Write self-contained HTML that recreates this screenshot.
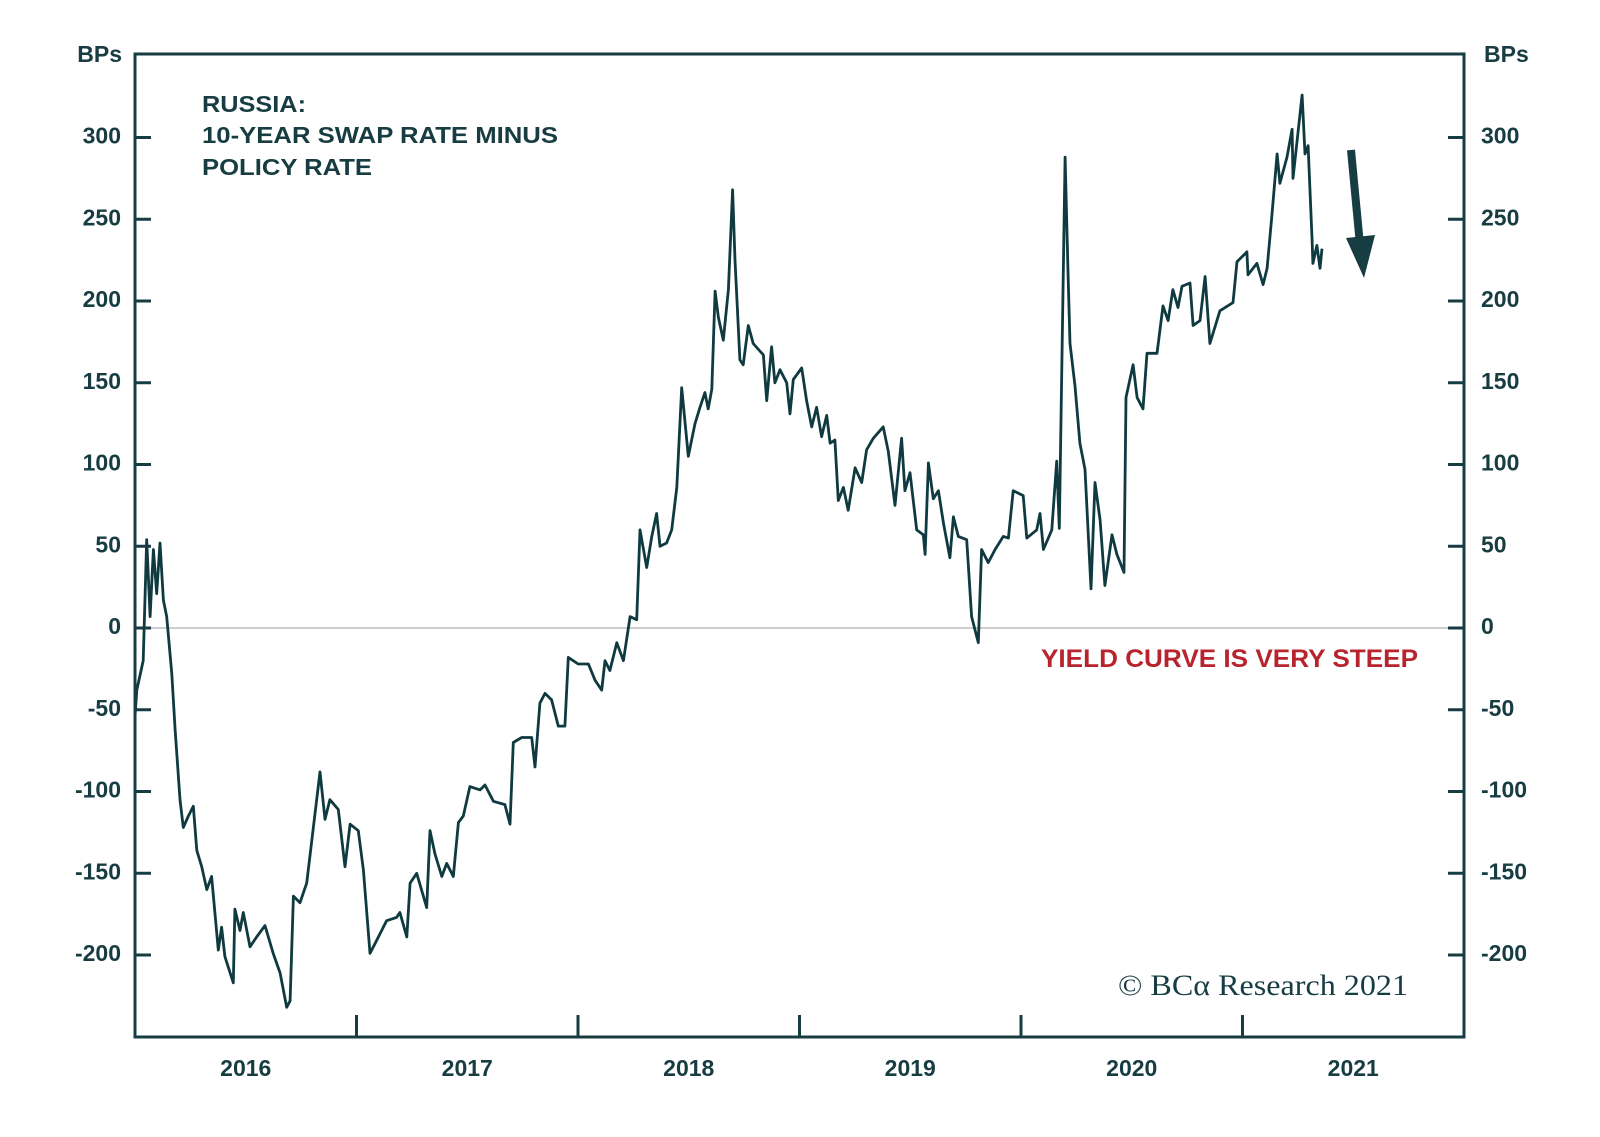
<!DOCTYPE html>
<html>
<head>
<meta charset="utf-8">
<style>
  html,body{margin:0;padding:0;background:#fff;}
  svg{display:block;}
  text{font-family:"Liberation Sans",sans-serif;}
</style>
</head>
<body>
<svg id="chart" width="1600" height="1137" viewBox="0 0 1600 1137" xmlns="http://www.w3.org/2000/svg">
  <g id="grid"></g>
  <g id="series"></g>
  <g id="axes"></g>
  <g fill="#173c42" font-weight="bold" font-size="23">
    <text x="202" y="112" textLength="104" lengthAdjust="spacingAndGlyphs">RUSSIA:</text>
    <text x="202" y="143" textLength="356" lengthAdjust="spacingAndGlyphs">10-YEAR SWAP RATE MINUS</text>
    <text x="202" y="175" textLength="170" lengthAdjust="spacingAndGlyphs">POLICY RATE</text>
  </g>
  <text x="1041" y="667" fill="#b8242e" font-weight="bold" font-size="25" textLength="377" lengthAdjust="spacingAndGlyphs">YIELD CURVE IS VERY STEEP</text>
  <text x="1118" y="995" fill="#173c42" font-size="30" textLength="290" lengthAdjust="spacingAndGlyphs" style="font-family:'Liberation Serif',serif">© BCα Research 2021</text>
  <g>
    <line x1="1351" y1="150" x2="1360" y2="245" stroke="#173c42" stroke-width="8"/>
    <polygon points="1346,238 1375,235 1364,278" fill="#173c42"/>
  </g>
</svg>
<script>
const years = [2016.000,2016.008,2016.037,2016.053,2016.068,2016.083,2016.098,2016.113,2016.128,2016.143,2016.166,2016.181,2016.203,2016.218,2016.241,2016.263,2016.279,2016.301,2016.324,2016.346,2016.376,2016.391,2016.406,2016.444,2016.451,2016.474,2016.489,2016.519,2016.549,2016.587,2016.624,2016.655,2016.685,2016.700,2016.715,2016.745,2016.775,2016.798,2016.835,2016.858,2016.880,2016.918,2016.948,2016.971,2017.008,2017.031,2017.061,2017.091,2017.136,2017.181,2017.196,2017.227,2017.242,2017.272,2017.317,2017.332,2017.354,2017.385,2017.407,2017.437,2017.460,2017.482,2017.512,2017.558,2017.580,2017.618,2017.670,2017.693,2017.708,2017.746,2017.791,2017.806,2017.828,2017.851,2017.881,2017.911,2017.941,2017.956,2018.001,2018.047,2018.077,2018.107,2018.122,2018.144,2018.175,2018.205,2018.235,
2018.265,2018.280,2018.310,2018.333,2018.355,2018.370,2018.400,2018.423,2018.446,2018.468,2018.498,2018.528,2018.551,2018.573,2018.588,2018.604,2018.619,2018.634,2018.656,2018.679,2018.698,2018.709,2018.731,2018.746,2018.769,2018.791,2018.837,2018.852,2018.874,2018.889,2018.912,2018.942,2018.957,2018.972,2019.010,2019.032,2019.055,2019.077,2019.100,2019.123,2019.138,2019.160,2019.175,2019.198,2019.220,2019.251,2019.281,2019.303,2019.333,2019.378,2019.401,2019.431,2019.461,2019.476,2019.499,2019.529,2019.559,2019.567,2019.582,2019.604,2019.627,2019.650,2019.679,2019.695,2019.717,2019.755,2019.777,2019.807,2019.822,2019.852,2019.883,2019.920,2019.943,2019.965,2020.010,2020.026,2020.071,2020.086,2020.101,2020.139,2020.161,2020.173,
2020.199,2020.212,2020.221,2020.244,2020.266,2020.289,2020.316,2020.334,2020.357,2020.379,2020.411,2020.433,2020.465,2020.474,2020.506,2020.524,2020.551,2020.569,2020.614,2020.641,2020.664,2020.686,2020.709,2020.727,2020.763,2020.777,2020.808,2020.831,2020.853,2020.898,2020.957,2020.975,2021.020,2021.025,2021.065,2021.093,2021.111,2021.133,2021.156,2021.169,2021.201,2021.224,2021.228,2021.269,2021.282,2021.296,2021.314,2021.318,2021.336,2021.350,2021.359];
const values = [-54,-38,-20,54,7,48,21,52,17,7,-28,-62,-105,-122,-115,-109,-136,-146,-160,-152,-197,-183,-201,-217,-172,-185,-174,-195,-189,-182,-199,-211,-232,-228,-164,-168,-156,-130,-88,-117,-105,-111,-146,-120,-124,-148,-199,-191,-179,-177,-174,-189,-156,-150,-171,-124,-138,-152,-144,-152,-119,-115,-97,-99,-96,-106,-108,-120,-70,-67,-67,-85,-46,-40,-44,-60,-60,-18,-22,-22,-32,-38,-20,-26,-9,-20,7,
5,60,37,56,70,50,52,60,86,147,105,125,135,144,134,146,206,190,176,207,268,225,164,161,185,174,167,139,172,150,158,150,131,152,159,139,123,135,117,130,113,115,78,86,72,98,89,109,116,123,108,75,116,84,95,60,57,45,101,79,84,64,43,68,56,54,7,-9,48,40,48,56,55,84,81,55,60,70,48,60,102,61,
288,218,174,148,113,97,24,89,66,26,57,45,34,141,161,141,134,168,168,197,188,207,196,209,211,185,188,215,174,194,199,224,230,216,223,210,220,253,290,272,288,305,275,326,290,295,237,223,234,220,232];
const yTicks = [-200,-150,-100,-50,0,50,100,150,200,250,300];
const yearLabels = ["2016","2017","2018","2019","2020","2021"];
const yearTicks = [2017,2018,2019,2020,2021];

const NS = "http://www.w3.org/2000/svg";
const X0 = 135, X1 = 1464, Y0 = 54, Y1 = 1037;
const xS = y => X0 + (y - 2016) * (X1 - X0) / 6;
const yS = v => 628 - v * 1.635;
const ink = "#173c42";
function mk(tag, attrs, parent) {
  const e = document.createElementNS(NS, tag);
  for (const k in attrs) e.setAttribute(k, attrs[k]);
  parent.appendChild(e);
  return e;
}
const grid = document.getElementById('grid');
const axes = document.getElementById('axes');
const series = document.getElementById('series');

const zl = mk('line', {x1: X0, x2: X1, y1: yS(0), y2: yS(0), stroke: '#bdbdbd', 'stroke-width': 1.5}, grid);



let d = '';
years.forEach((yr, i) => { d += (i ? 'L' : 'M') + xS(yr).toFixed(1) + ',' + yS(values[i]).toFixed(1); });
const path = mk('path', {d: d, fill: 'none', stroke: '#0f3a40', 'stroke-width': 2.8, 'stroke-linejoin': 'round'}, series);



const frame = mk('rect', {x: X0, y: Y0, width: X1 - X0, height: Y1 - Y0, fill: 'none', stroke: ink, 'stroke-width': 3}, axes);



yTicks.forEach(v => {
  const y = yS(v);
  const tl = mk('line', {x1: X0, x2: X0 + 16, y1: y, y2: y, stroke: ink, 'stroke-width': 3}, axes);
  
  
  const tr = mk('line', {x1: X1 - 16, x2: X1, y1: y, y2: y, stroke: ink, 'stroke-width': 3}, axes);
  
  
  const l = mk('text', {x: 121, y: y + 6, 'text-anchor': 'end', fill: ink, 'font-weight': 'bold', 'font-size': 23}, axes);
  l.textContent = v;
  
  
  const r = mk('text', {x: 1481, y: y + 6, 'text-anchor': 'start', fill: ink, 'font-weight': 'bold', 'font-size': 23}, axes);
  r.textContent = v;
  
  
});
const bl = mk('text', {x: 122, y: 62, 'text-anchor': 'end', fill: ink, 'font-weight': 'bold', 'font-size': 23}, axes);
bl.textContent = 'BPs';


const br = mk('text', {x: 1484, y: 62, 'text-anchor': 'start', fill: ink, 'font-weight': 'bold', 'font-size': 23}, axes);
br.textContent = 'BPs';



yearTicks.forEach(t => {
  const xt = mk('line', {x1: xS(t), x2: xS(t), y1: Y1, y2: Y1 - 22, stroke: ink, 'stroke-width': 3}, axes);
  
  
});
yearLabels.forEach((lab, i) => {
  const t = mk('text', {x: xS(2016 + i + 0.5), y: 1076, 'text-anchor': 'middle', fill: ink, 'font-weight': 'bold', 'font-size': 23}, axes);
  t.textContent = lab;
  
  
});
</script>
</body>
</html>
